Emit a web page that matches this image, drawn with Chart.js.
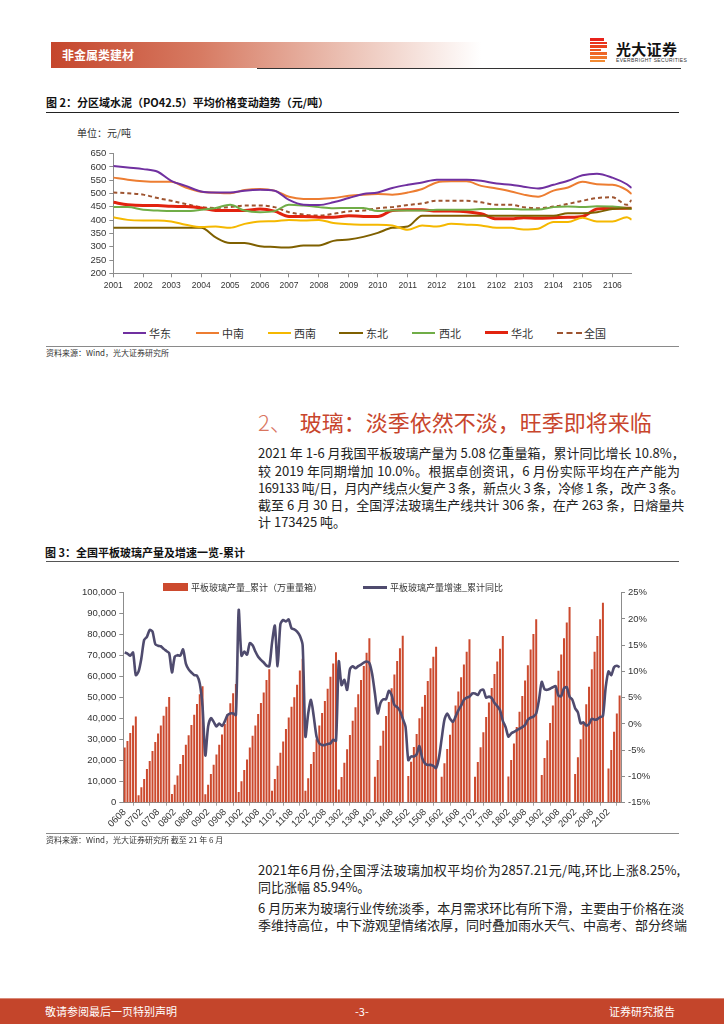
<!DOCTYPE html>
<html lang="zh-CN">
<head>
<meta charset="UTF-8">
<title>非金属类建材 - 水泥价格与平板玻璃产量</title>
<script src="https://cdn.jsdelivr.net/npm/chart.js"></script>
<style>
  html, body { margin: 0; padding: 0; background: #fff; }
  body {
    width: 724px; height: 1024px; position: relative; overflow: hidden;
    font-family: 'Noto Sans CJK SC', sans-serif; color: #222;
  }
  .abs { position: absolute; }
  canvas { position: absolute; }

  /* header */
  .band {
    left: 51px; top: 42px; width: 430px; height: 26px;
    background: linear-gradient(90deg, #C5462C 0%, #D77B63 35%, #EBC0B3 68%, #fff 100%);
  }
  .band span {
    position: absolute; left: 11px; top: 4px; font-size: 12px; line-height: 17px;
    color: #fff; font-weight: bold;
  }
  .logo div { position: absolute; height: 2.6px; }
  .brand { left: 616px; top: 40px; font-size: 15px; font-weight: bold; line-height: 18px; color: #111; letter-spacing: 0.3px; }
  .brand-en { left: 616px; top: 58px; font-size: 5px; line-height: 5px; color: #333; letter-spacing: 0.35px; font-family: 'Liberation Sans', sans-serif; }

  .rule { height: 0; }
  .title { font-size: 11px; line-height: 14px; font-weight: bold; color: #111; white-space: nowrap; }
  .source { font-size: 8px; line-height: 10px; color: #333; white-space: nowrap; }
  .unit { font-size: 10px; line-height: 12px; color: #333; }

  /* legends */
  .lg { font-size: 11px; line-height: 14px; color: #333; white-space: nowrap; }
  .lg i { position: absolute; display: block; }
  .lg2 { font-size: 9px; line-height: 11px; color: #333; white-space: nowrap; }

  /* text */
  .h2 { left: 258px; top: 408px; font-size: 22px; line-height: 27px; color: #C8452C; white-space: nowrap; }
  .h2 b { font-weight: 300; color: #D9755E; margin-right: 8px; }
  .tl {
    left: 258px; width: 422px; font-size: 13px; line-height: 17px; color: #222;
    text-align: justify; text-align-last: justify; white-space: nowrap;
  }
  .tl.last { text-align-last: left; }
  .tl.tight { letter-spacing: -0.35px; }

  .foot { left: 0; top: 998px; width: 724px; height: 26px; background: #C4452B; border-top: 1px solid #D98A78; }
  .foot span { position: absolute; top: 6px; font-size: 11px; line-height: 13px; color: #fff; }
</style>
</head>
<body>

<!-- 页眉 -->
<div class="abs band"><span>非金属类建材</span></div>
<div class="abs rule" style="left:257px;top:68px;width:424px;border-top:1.5px solid #333;"></div>
<div class="abs logo" style="left:590px;top:38px;width:18px;height:27px;">
  <div style="left:0;top:0;width:14px;background:#E8221B;"></div>
  <div style="left:0;top:3.6px;width:17px;background:#E9321C;"></div>
  <div style="left:0;top:7.2px;width:17px;background:#EA431F;"></div>
  <div style="left:0;top:10.8px;width:11px;background:#EC5522;"></div>
  <div style="left:0;top:14.4px;width:17px;background:#EE6627;"></div>
  <div style="left:0;top:18px;width:17px;background:#F0782C;"></div>
  <div style="left:0;top:21.6px;width:15px;background:#F28A32;"></div>
</div>
<div class="abs brand">光大证券</div>
<div class="abs brand-en">EVERBRIGHT SECURITIES</div>

<!-- 图 2 -->
<div class="abs title" style="left:46px;top:95px;">图 2：分区域水泥（PO42.5）平均价格变动趋势（元/吨）</div>
<div class="abs rule" style="left:46px;top:112px;width:633px;border-top:1.5px solid #222;"></div>
<div class="abs unit" style="left:77px;top:127px;">单位：元/吨</div>
<canvas id="cementChart" width="580" height="150" style="left:60px;top:145px;"></canvas>

<div class="abs lg" style="left:0;top:326px;width:724px;height:14px;">
  <i style="left:123px;top:6px;width:23px;border-top:2px solid #7030A0;"></i><span class="abs" style="left:149px;">华东</span>
  <i style="left:196px;top:6px;width:23px;border-top:2px solid #ED7D31;"></i><span class="abs" style="left:222px;">中南</span>
  <i style="left:268px;top:6px;width:23px;border-top:2px solid #F5B800;"></i><span class="abs" style="left:294px;">西南</span>
  <i style="left:339px;top:6px;width:24px;border-top:2px solid #7F6000;"></i><span class="abs" style="left:366px;">东北</span>
  <i style="left:412px;top:6px;width:23px;border-top:2px solid #70AD47;"></i><span class="abs" style="left:439px;">西北</span>
  <i style="left:485px;top:5px;width:23px;border-top:3px solid #E2230F;"></i><span class="abs" style="left:511px;">华北</span>
  <i style="left:557px;top:6px;width:25px;border-top:2px dashed #9E5430;"></i><span class="abs" style="left:584px;">全国</span>
</div>
<div class="abs rule" style="left:46px;top:346px;width:633px;border-top:1.5px solid #8a8a8a;"></div>
<div class="abs source" style="left:46px;top:348px;">资料来源：Wind，光大证券研究所</div>

<!-- 正文 -->
<div class="abs h2"><b>2、</b>玻璃：淡季依然不淡，旺季即将来临</div>
<div class="abs tl" style="top:444px;">2021 年 1-6 月我国平板玻璃产量为 5.08 亿重量箱，累计同比增长 10.8%，</div>
<div class="abs tl" style="top:462px;">较 2019 年同期增加 10.0%。根据卓创资讯，6 月份实际平均在产产能为</div>
<div class="abs tl tight" style="top:479px;">169133 吨/日，月内产线点火复产 3 条，新点火 3 条，冷修 1 条，改产 3 条。</div>
<div class="abs tl" style="top:496px;">截至 6 月 30 日，全国浮法玻璃生产线共计 306 条，在产 263 条，日熔量共</div>
<div class="abs tl last" style="top:513px;">计 173425 吨。</div>

<!-- 图 3 -->
<div class="abs title" style="left:45px;top:545px;">图 3：全国平板玻璃产量及增速一览-累计</div>
<div class="abs rule" style="left:46px;top:561px;width:633px;border-top:1.5px solid #555;"></div>
<canvas id="glassChart" width="640" height="258" style="left:40px;top:578px;"></canvas>
<div class="abs lg2" style="left:0;top:582px;width:724px;height:11px;">
  <i class="abs" style="left:163px;top:1px;width:25px;height:8px;background:#CC4A2E;"></i><span class="abs" style="left:191px;">平板玻璃产量_累计（万重量箱）</span>
  <i class="abs" style="left:363px;top:4px;width:24px;border-top:3px solid #4F4B6E;"></i><span class="abs" style="left:390px;">平板玻璃产量增速_累计同比</span>
</div>
<div class="abs rule" style="left:46px;top:833px;width:633px;border-top:1.5px solid #8a8a8a;"></div>
<div class="abs source" style="left:46px;top:835px;">资料来源：Wind，光大证券研究所 截至 21 年 6 月</div>

<div class="abs tl" style="top:861px;">2021年6月份,全国浮法玻璃加权平均价为2857.21元/吨,环比上涨8.25%,</div>
<div class="abs tl last" style="top:878px;">同比涨幅 85.94%。</div>
<div class="abs tl" style="top:899px;">6 月历来为玻璃行业传统淡季，本月需求环比有所下滑，主要由于价格在淡</div>
<div class="abs tl" style="top:916px;">季维持高位，中下游观望情绪浓厚，同时叠加雨水天气、中高考、部分终端</div>

<!-- 页脚 -->
<div class="abs foot">
  <span style="left:45px;">敬请参阅最后一页特别声明</span>
  <span style="left:355px;">-3-</span>
  <span style="left:609px;">证券研究报告</span>
</div>

<script>
// ---------- 图 2：分区域水泥价格（半月取值，元/吨） ----------
const priceTickLabels = ['2001','2002','2003','2004','2005','2006','2007','2008','2009',
                         '2010','2011','2012','2101','2102','2103','2104','2105','2106'];
const priceEnd = '2021-06-21';

const huadong  = [604,598,592,582,548,529,508,504,504,511,514,511,476,458,457,467,483,498,504,521,533,542,552,552,552,548,538,533,526,519,533,548,569,575,560,535,521];
const zhongnan = [560,552,546,544,544,523,507,503,501,513,517,511,488,480,480,483,492,496,498,496,504,517,542,546,546,529,519,508,496,488,511,523,544,535,533,513,498];
const xinan    = [411,401,399,399,395,383,374,376,371,386,395,396,401,399,401,389,385,383,383,380,364,380,376,386,383,380,371,371,365,368,393,393,409,395,395,411,402];
const dongbei  = [371,371,371,371,371,371,371,335,314,314,302,299,297,305,305,322,327,337,352,371,376,417,417,417,417,417,417,417,417,417,417,426,426,430,442,445,445];
const xibei    = [449,449,439,436,434,434,439,446,458,436,430,434,458,455,449,445,446,446,434,436,436,436,439,439,439,442,442,442,440,440,449,451,449,452,451,445,442];
const huabei   = [467,458,455,455,452,451,446,436,436,436,442,434,414,414,411,411,417,414,414,436,439,439,434,434,432,424,405,405,409,407,409,411,414,442,445,445,445];
const quanguo  = [504,501,496,483,473,461,449,446,449,455,455,449,430,421,417,424,433,436,445,449,457,463,473,473,473,467,458,458,449,445,451,461,473,483,486,458,476];

const DAY = 86400000;
const day0 = Date.UTC(2020, 0, 1);
const dayOf = s => (Date.parse(s) - day0) / DAY;

// 每月 1 日和 16 日取值，最后一个点为 6 月 21 日
const priceDates = [];
priceTickLabels.forEach(l => {
  const ym = '20' + l.slice(0, 2) + '-' + l.slice(2);
  priceDates.push(ym + '-01', ym + '-16');
});
priceDates.push(priceEnd);
const priceDays = priceDates.map(dayOf);
const tickDays = priceTickLabels.map(l => dayOf('20' + l.slice(0, 2) + '-' + l.slice(2) + '-01'));

const pts = arr => arr.map((v, i) => ({ x: priceDays[i], y: v }));

const tickFont = { family: "'Liberation Sans', Arial, sans-serif", size: 9 };
const axisGrey = '#8c8c8c';

new Chart(document.getElementById('cementChart'), {
  type: 'line',
  data: {
    datasets: [
      { label: '华东', data: pts(huadong),  borderColor: '#7030A0', borderWidth: 2 },
      { label: '中南', data: pts(zhongnan), borderColor: '#ED7D31', borderWidth: 2 },
      { label: '西南', data: pts(xinan),    borderColor: '#F5B800', borderWidth: 2 },
      { label: '东北', data: pts(dongbei),  borderColor: '#7F6000', borderWidth: 2 },
      { label: '西北', data: pts(xibei),    borderColor: '#70AD47', borderWidth: 2 },
      { label: '华北', data: pts(huabei),   borderColor: '#E2230F', borderWidth: 3 },
      { label: '全国', data: pts(quanguo),  borderColor: '#9E5430', borderWidth: 2, borderDash: [4, 3] }
    ]
  },
  options: {
    responsive: false,
    animation: false,
    devicePixelRatio: 1,
    layout: { padding: { top: 7.7, right: 8.3, left: 0, bottom: 0 } },
    elements: {
      point: { radius: 0 },
      line: { cubicInterpolationMode: 'monotone', borderJoinStyle: 'round', fill: false }
    },
    plugins: { legend: { display: false }, tooltip: { enabled: false } },
    scales: {
      x: {
        type: 'linear',
        min: 0,
        max: dayOf(priceEnd),
        afterBuildTicks: s => { s.ticks = tickDays.map(v => ({ value: v })); },
        afterFit: s => { s.height = 21.7; },
        ticks: {
          autoSkip: false, maxRotation: 0, padding: 3,
          color: '#333', font: { family: tickFont.family, size: 8.5 },
          callback: (v, i) => priceTickLabels[i]
        },
        grid: { drawOnChartArea: false, tickLength: 4, color: axisGrey },
        border: { color: axisGrey }
      },
      y: {
        min: 200, max: 650,
        afterFit: s => { s.width = 53.3; },
        ticks: {
          stepSize: 50, autoSkip: false, padding: 3, color: '#333',
          font: { family: tickFont.family, size: 9.5 }
        },
        grid: { drawOnChartArea: false, tickLength: 4, color: axisGrey },
        border: { color: axisGrey }
      }
    }
  }
});

// ---------- 图 3：全国平板玻璃产量（累计，万重量箱）及累计同比（%） ----------
const monthLabels = [];
for (let y = 2006, m = 8; y < 2021 || (y === 2021 && m <= 6);) {
  monthLabels.push(String(y % 100).padStart(2, '0') + String(m).padStart(2, '0'));
  m++;
  if (m > 12) { m = 1; y++; }
}

const glassOutput = [
  26300, 29400, 33200, 36800, 41000,                                                  // 2006.08-12
  3500, 7300, 11300, 16000, 19800, 24600, 28900, 32900, 36800, 41400, 45700, 50300,    // 2007
  4100, 8600, 12900, 18400, 22700, 27600, 32100, 37000, 41900, 47000, 51700, 55500,    // 2008
  4000, 8600, 13700, 18100, 22900, 27600, 32500, 37500, 42200, 47300, 52100, 56500,    // 2009
  5100, 10200, 15600, 20600, 26300, 31900, 36800, 42200, 47500, 52500, 58400, 63500,   // 2010
  5700, 11300, 17600, 23800, 29200, 35100, 40600, 45700, 50200, 56200, 62900, 68600,   // 2011
  5700, 11700, 18400, 24100, 30200, 36800, 42700, 48400, 54300, 60000, 66300, 71700,   // 2012
  6300, 12200, 19000, 25400, 32200, 39000, 45400, 51600, 58400, 65100, 71400, 78300,   // 2013
  null, 12400, 20300, 27100, 34300, 41300, 48000, 54500, 61000, 67500, 73500, 79500,   // 2014
  null, 12700, 19500, 26500, 32700, 40200, 45700, 51300, 57900, 64000, 69500, 74300,   // 2015
  null, 12400, 18800, 25600, 32400, 39500, 46300, 53000, 59700, 65800, 71900, 77800,   // 2016
  null, 12300, 19400, 26400, 33600, 40800, 47700, 54600, 61300, 67200, 73300, 79400,   // 2017
  null, 12500, 20300, 28200, 36000, 43300, 50800, 58200, 65400, 73000, 80300, 87300,   // 2018
  null, 13200, 21300, 29700, 38000, 46300, 54500, 62800, 70600, 78300, 85800, 93200,   // 2019
  null, 13700, 21600, 30200, 38400, 46900, 55200, 63500, 71900, 79400, 87300, 95200,   // 2020
  null, 16300, 25100, 33800, 42500, 51000                                              // 2021.01-06
];

const glassGrowth = [
  13.6, 13.4, 13.0, 13.6, 9.3,
  10.0, 12.5, 16.0, 16.6, 17.9, 17.6, 15.2, 14.9, 14.8, 14.3, 13.9, 13.5,
  9.8, 12.8, 13.1, 13.0, 14.2, 11.5, 10.4, 9.8, 9.3, 9.2, 7.7, 3.3,
  -6.0, -0.5, 1.1, 0.4, -0.5, 0.1, -0.4, 0.5, 1.7, 2.0, 2.0, 1.7,
  21.7, 13.0, 13.8, 13.2, 15.4, 15.0, 13.8, 12.8, 12.2, 11.7, 11.1, 11.0,
  15.5, 18.7, 11.0, 19.0, 19.8, 19.5, 19.9, 18.2, 18.0, 17.6, 16.8, 15.0,
  -2.4, 2.0, 4.6, 1.4, -2.4, -3.7, -4.0, -4.0, -3.8, -3.7, -3.0, -3.2,
  11.9, 7.4, 8.4, 6.5, 10.4, 11.0, 10.6, 11.0, 11.3, 11.7, 11.9, 11.6,
  9.5, 5.8, 2.0, 4.0, 4.7, 4.7, 6.3, 5.5, 3.6, 3.2, 2.5, 1.0,
  -0.5, -6.9, -6.2, -6.2, -5.8, -4.2, -6.5, -7.5, -7.8, -7.8, -8.0, -8.4,
  -6.5, -2.8, 0.8, 2.0, 1.0, 0.4, 1.4, 2.6, 3.5, 4.6, 5.0, 5.2,
  5.8, 5.8, 5.5, 6.4, 6.5, 5.0, 5.2, 4.9, 4.0, 3.4, 2.6, 0.6,
  -0.6, -2.4, -1.8, -1.5, -1.2, -0.9, -0.6, -0.2, 0.8, 1.2, 1.4, 2.0,
  4.6, 8.0, 6.6, 6.5, 6.7, 7.0, 7.2, 5.4, 5.3, 6.8, 7.0, 5.2,
  4.6, 3.0, 2.2, 0.1, 0.3, -0.3, 0.0, 1.0, 0.8, 0.9, 1.3, 1.5,
  7.0, 10.0, 9.3, 10.8, 11.1, 10.8
];

new Chart(document.getElementById('glassChart'), {
  type: 'bar',
  data: {
    labels: monthLabels,
    datasets: [
      {
        type: 'line', label: '平板玻璃产量增速_累计同比', data: glassGrowth, yAxisID: 'y1', order: 0,
        borderColor: '#4F4B6E', borderWidth: 2.6, pointRadius: 0, tension: 0.25, borderJoinStyle: 'round'
      },
      {
        type: 'bar', label: '平板玻璃产量_累计（万重量箱）', data: glassOutput, yAxisID: 'y', order: 1,
        backgroundColor: '#CC4A2E', barPercentage: 0.72, categoryPercentage: 1
      }
    ]
  },
  options: {
    responsive: false,
    animation: false,
    devicePixelRatio: 1,
    layout: { padding: { top: 14.7, right: 0, left: 0, bottom: 0 } },
    plugins: { legend: { display: false }, tooltip: { enabled: false } },
    scales: {
      x: {
        afterFit: s => { s.height = 33.3; },
        ticks: {
          autoSkip: false, minRotation: 45, maxRotation: 45, padding: 1,
          color: '#333', font: { family: tickFont.family, size: 9.5 },
          callback: (v, i) => (i % 6 === 0 ? monthLabels[i] : null)
        },
        grid: { drawOnChartArea: false, tickLength: 3, color: '#a0a0a0' },
        border: { color: axisGrey }
      },
      y: {
        position: 'left', min: 0, max: 100000,
        afterFit: s => { s.width = 83.3; },
        ticks: {
          stepSize: 10000, autoSkip: false, padding: 3, color: '#333',
          font: { family: tickFont.family, size: 9.5 },
          callback: v => v.toLocaleString('en-US')
        },
        grid: { drawOnChartArea: false, tickLength: 4, color: axisGrey },
        border: { color: axisGrey }
      },
      y1: {
        position: 'right', min: -15, max: 25,
        afterFit: s => { s.width = 59; },
        ticks: {
          stepSize: 5, autoSkip: false, padding: 3, color: '#333',
          font: { family: tickFont.family, size: 9.5 },
          callback: v => v + '%'
        },
        grid: { drawOnChartArea: false, tickLength: 4, color: axisGrey },
        border: { color: axisGrey }
      }
    }
  }
});
</script>
</body>
</html>
